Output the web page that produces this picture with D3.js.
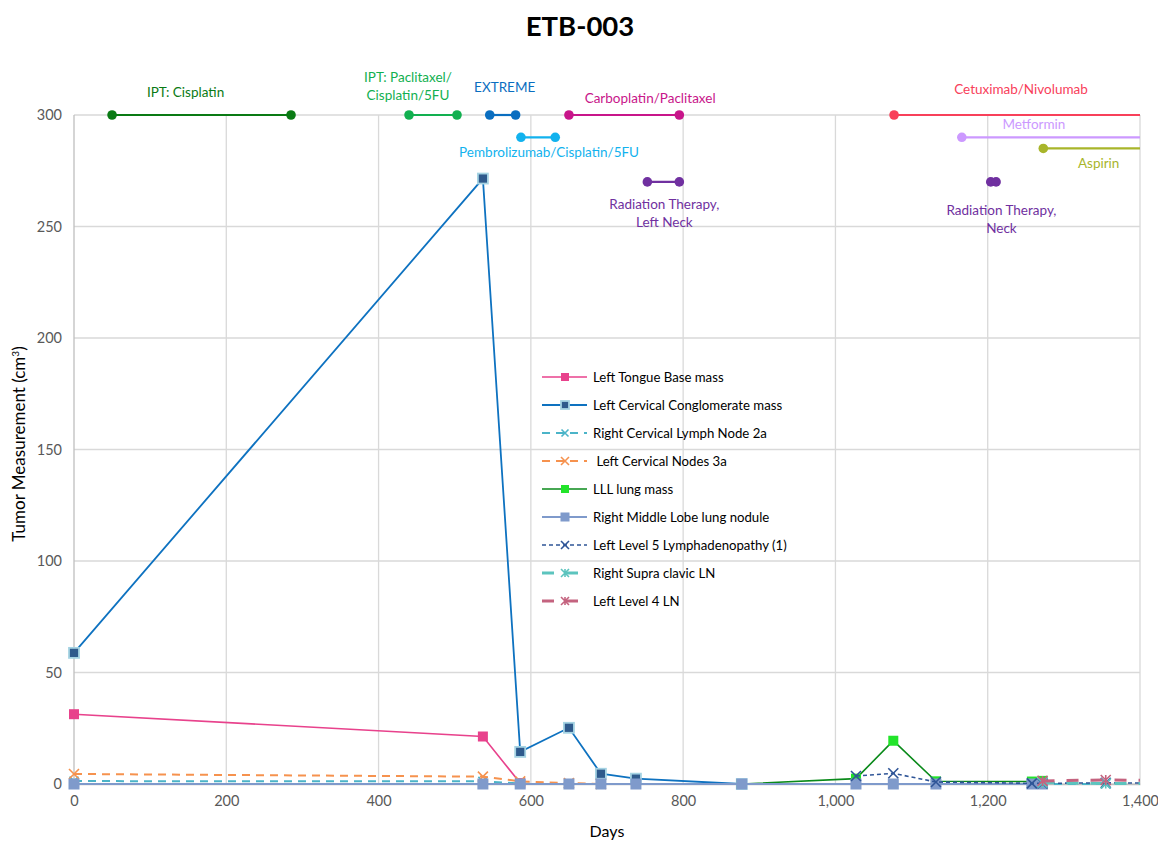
<!DOCTYPE html>
<html>
<head>
<meta charset="utf-8">
<script src="https://cdn.jsdelivr.net/npm/d3@7"></script>
<style>
    body { margin: 0; background: #fff; }
    svg text { font-family: Lato, "Open Sans", sans-serif; }
</style>
</head>
<body>
<svg id="chart" width="1158" height="842"></svg>
<script>
const tongueBase = [[0, 31.3], [537, 21.3], [586, 0.4]]
const cervicalConglomerate = [[0, 58.8], [537, 271.5], [586, 14.4], [650, 25.2], [692, 4.6], [738, 2.4], [877, 0]]
const rightCervical2a = [[0, 1.3], [537, 1.2], [586, 0.2], [650, 0], [692, 0], [738, 0], [877, 0], [1027, 0], [1076, 0], [1132, 0], [1258, 0], [1272, 0], [1355, 0]]
const leftCervical3a = [[0, 4.5], [537, 3.3], [586, 1.2], [650, 0.4], [692, 0]]
const lllLungMass = [[877, 0], [1027, 2.4], [1076, 19.4], [1132, 1.2], [1258, 1.1], [1272, 1.4]]
const rightMiddleLobe = [[0, 0], [537, 0], [586, 0], [650, 0], [692, 0], [738, 0], [877, 0], [1027, 0], [1076, 0], [1132, 0], [1258, 0], [1272, 0]]
const leftLevel5 = [[1027, 3.6], [1076, 4.8], [1132, 0.9], [1258, 0.3], [1272, 0.3], [1355, 0.5], [1450, 0.4]]
const rightSupraClavic = [[1272, 0.6], [1355, 0.2], [1450, 0.3]]
const leftLevel4 = [[1272, 1.4], [1355, 1.8], [1450, 1.5]]

const seriesNames = [
    "Left Tongue Base mass",
    "Left Cervical Conglomerate mass",
    "Right Cervical Lymph Node 2a",
    " Left Cervical Nodes 3a",
    "LLL lung mass",
    "Right Middle Lobe lung nodule",
    "Left Level 5 Lymphadenopathy (1)",
    "Right Supra clavic LN",
    "Left Level 4 LN",
]
const seriesValues = [tongueBase, cervicalConglomerate, rightCervical2a, leftCervical3a, lllLungMass, rightMiddleLobe, leftLevel5, rightSupraClavic, leftLevel4]

// treatments: name, start day, end day (null = ongoing), level on the y axis
const treatmentNames = ["IPT: Cisplatin", "IPT: Paclitaxel/\nCisplatin/5FU", "EXTREME", "Pembrolizumab/Cisplatin/5FU", "Carboplatin/Paclitaxel", "Radiation Therapy,\nLeft Neck", "Cetuximab/Nivolumab", "Metformin", "Aspirin", "Radiation Therapy,\nNeck"]
const treatmentStart = [50, 440, 546, 587, 650, 753, 1077, 1166, 1273, 1204]
const treatmentEnd = [285, 503, 580, 632, 795, 795, null, null, null, 1211]
const treatmentLevel = [300, 300, 300, 290, 300, 270, 300, 290, 285, 270]

const xTicks = [0, 200, 400, 600, 800, 1000, 1200, 1400]
const yTicks = [0, 50, 100, 150, 200, 250, 300]

// styles
const seriesStyles = [
    { color: "#E8428C", dash: null, marker: "square", fill: "#E8428C", stroke: "#E8428C", size: 10, width: 1.6 },
    { color: "#0E72C0", dash: null, marker: "square", fill: "#2F5A8C", stroke: "#A5D3E3", size: 10, width: 1.8 },
    { color: "#4BB4C8", dash: "8,6", marker: "x", fill: null, stroke: "#4BB4C8", size: 9, width: 2 },
    { color: "#F6924E", dash: "8,6", marker: "x", fill: null, stroke: "#F6924E", size: 10, width: 2 },
    { color: "#0A8A1A", dash: null, marker: "square", fill: "#22E42A", stroke: "#22E42A", size: 10, width: 1.6 },
    { color: "#7F9ACB", dash: null, marker: "square", fill: "#7F9ACB", stroke: "#7F9ACB", size: 11, width: 2.2 },
    { color: "#2F5597", dash: "4,3", marker: "x", fill: null, stroke: "#2F5597", size: 10, width: 1.6 },
    { color: "#5CC4BE", dash: "12,12", marker: "asterisk", fill: null, stroke: "#5CC4BE", size: 10, width: 3 },
    { color: "#C4637F", dash: "12,12", marker: "asterisk", fill: null, stroke: "#C4637F", size: 10, width: 3 },
]
const treatmentColors = ["#0A7A14", "#12B050", "#0A6EC0", "#12B2EE", "#C8158A", "#7030A0", "#F8405A", "#CC99FF", "#A8B52A", "#7030A0"]
// label offsets from the middle of each bar, in px
const treatmentLabelOffsets = [[-16, -18], [-25, -33], [2, -23], [11, 20], [26, -12], [1, 27], [4, -21], [-17, -8], [7, 20], [8, 33]]

const svg = d3.select("#chart")
const margin = { top: 115, right: 18, bottom: 58, left: 74 }
const width = +svg.attr("width") - margin.left - margin.right
const height = +svg.attr("height") - margin.top - margin.bottom

const x = d3.scaleLinear().domain([0, 1400]).range([0, width])
const y = d3.scaleLinear().domain([0, 300]).range([height, 0])

svg.append("text")
    .attr("x", 580)
    .attr("y", 36)
    .attr("text-anchor", "middle")
    .style("font-size", "27.5px")
    .style("font-weight", "bold")
    .text("ETB-003")

const focus = svg.append("g").attr("transform", "translate(" + margin.left + "," + margin.top + ")")

focus.append("clipPath").attr("id", "plot-clip")
    .append("rect")
    .attr("x", -20).attr("y", -80)
    .attr("width", width + 20).attr("height", height + 100)

// grid
focus.append("g").selectAll("line.hgrid")
    .data(yTicks)
    .enter().append("line")
    .attr("x1", 0).attr("x2", width)
    .attr("y1", d => y(d)).attr("y2", d => y(d))
    .style("stroke", "#D9D9D9")
    .style("stroke-width", 1.3)

focus.append("g").selectAll("line.vgrid")
    .data(xTicks)
    .enter().append("line")
    .attr("x1", d => x(d)).attr("x2", d => x(d))
    .attr("y1", 0).attr("y2", height)
    .style("stroke", d => d == 0 ? "#BFBFBF" : "#D9D9D9")
    .style("stroke-width", 1.3)

const xAxis = focus.append("g")
    .attr("transform", "translate(0," + height + ")")
    .call(d3.axisBottom(x).tickValues(xTicks).tickSize(0).tickPadding(12).tickFormat(d3.format(",")))
xAxis.select(".domain").style("stroke", "#BFBFBF").style("stroke-width", 1.3)

const yAxis = focus.append("g")
    .call(d3.axisLeft(y).tickValues(yTicks).tickSize(0).tickPadding(12))
yAxis.select(".domain").remove()

focus.selectAll(".tick text")
    .style("font-size", "14.5px")
    .style("fill", "#595959")
    .style("font-family", "Lato, sans-serif")

svg.append("text")
    .attr("x", 607)
    .attr("y", 837)
    .attr("text-anchor", "middle")
    .style("font-size", "16px")
    .text("Days")

svg.append("text")
    .attr("transform", "translate(25,444) rotate(-90)")
    .attr("text-anchor", "middle")
    .style("font-size", "17px")
    .text("Tumor Measurement (cm")
    .append("tspan")
    .attr("dy", -6)
    .style("font-size", "10px")
    .text("3")
    .select(function () { return this.parentNode })
    .append("tspan")
    .attr("dy", 6)
    .text(")")

// marker drawing
function drawMarker (sel, style) {
    const s = style.size / 2
    if (style.marker == "square") {
        sel.append("rect")
            .attr("x", -s).attr("y", -s)
            .attr("width", style.size).attr("height", style.size)
            .style("fill", style.fill)
            .style("stroke", style.stroke)
            .style("stroke-width", style.stroke == style.fill ? 0 : 1.8)
    } else {
        let d = "M" + -s + "," + -s + "L" + s + "," + s + "M" + -s + "," + s + "L" + s + "," + -s
        if (style.marker == "asterisk") d += "M0," + -s + "L0," + s
        sel.append("path")
            .attr("d", d)
            .style("fill", "none")
            .style("stroke", style.stroke)
            .style("stroke-width", 1.6)
    }
}

// treatment bars
const treatments = treatmentNames.map((name, i) => ({
    name: name,
    start: treatmentStart[i],
    end: treatmentEnd[i],
    level: treatmentLevel[i],
    color: treatmentColors[i],
    offset: treatmentLabelOffsets[i],
}))

const bars = focus.append("g").attr("clip-path", "url(#plot-clip)")
    .selectAll("g.treatment")
    .data(treatments)
    .enter().append("g")
    .attr("class", "treatment")

bars.append("line")
    .attr("x1", d => x(d.start))
    .attr("x2", d => x(d.end == null ? 1400 : d.end))
    .attr("y1", d => y(d.level)).attr("y2", d => y(d.level))
    .style("stroke", d => d.color)
    .style("stroke-width", 2.2)

bars.selectAll("circle")
    .data(d => (d.end == null ? [d.start] : [d.start, d.end]).map(v => ({ v: v, d: d })))
    .enter().append("circle")
    .attr("cx", p => x(p.v))
    .attr("cy", p => y(p.d.level))
    .attr("r", 4.8)
    .style("fill", p => p.d.color)

const labels = focus.append("g").selectAll("text.tlabel")
    .data(treatments)
    .enter().append("text")
    .attr("class", "tlabel")
    .attr("text-anchor", "middle")
    .style("font-size", "13.5px")
    .style("fill", d => d.color)

labels.each(function (d) {
    const cx = (x(d.start) + x(d.end == null ? 1400 : d.end)) / 2 + d.offset[0]
    const cy = y(d.level) + d.offset[1]
    d3.select(this).selectAll("tspan")
        .data(d.name.split("\n"))
        .enter().append("tspan")
        .attr("x", cx)
        .attr("y", (t, i) => cy + i * 18)
        .text(t => t)
})

// measurement series
const line = d3.line().x(p => x(p[0])).y(p => y(p[1]))
const seriesG = focus.append("g").attr("clip-path", "url(#plot-clip)")

seriesValues.forEach((values, i) => {
    const style = seriesStyles[i]
    seriesG.append("path")
        .datum(values)
        .attr("d", line)
        .style("fill", "none")
        .style("stroke", style.color)
        .style("stroke-width", style.width)
        .style("stroke-dasharray", style.dash)

    seriesG.selectAll(".m" + i)
        .data(values.filter(p => p[0] <= 1400))
        .enter().append("g")
        .attr("class", "m" + i)
        .attr("transform", p => "translate(" + x(p[0]) + "," + y(p[1]) + ")")
        .call(drawMarker, style)
})

// legend
const legend = focus.append("g").attr("transform", "translate(" + (541 - margin.left) + "," + (377 - margin.top) + ")")
const entries = legend.selectAll("g.entry")
    .data(seriesNames)
    .enter().append("g")
    .attr("class", "entry")
    .attr("transform", (d, i) => "translate(0," + i * 28 + ")")

entries.append("line")
    .attr("x1", 1).attr("x2", 46)
    .style("stroke", (d, i) => seriesStyles[i].color)
    .style("stroke-width", (d, i) => seriesStyles[i].width)
    .style("stroke-dasharray", (d, i) => seriesStyles[i].dash)

entries.append("g")
    .attr("transform", "translate(24,0)")
    .each(function (d, i) {
        const st = Object.assign({}, seriesStyles[i], { size: seriesStyles[i].size - 2 })
        drawMarker(d3.select(this), st)
    })

entries.append("text")
    .attr("x", 52)
    .attr("y", 4.5)
    .style("font-size", "13.2px")
    .style("white-space", "pre")
    .text(d => d)
</script>
</body>
</html>
